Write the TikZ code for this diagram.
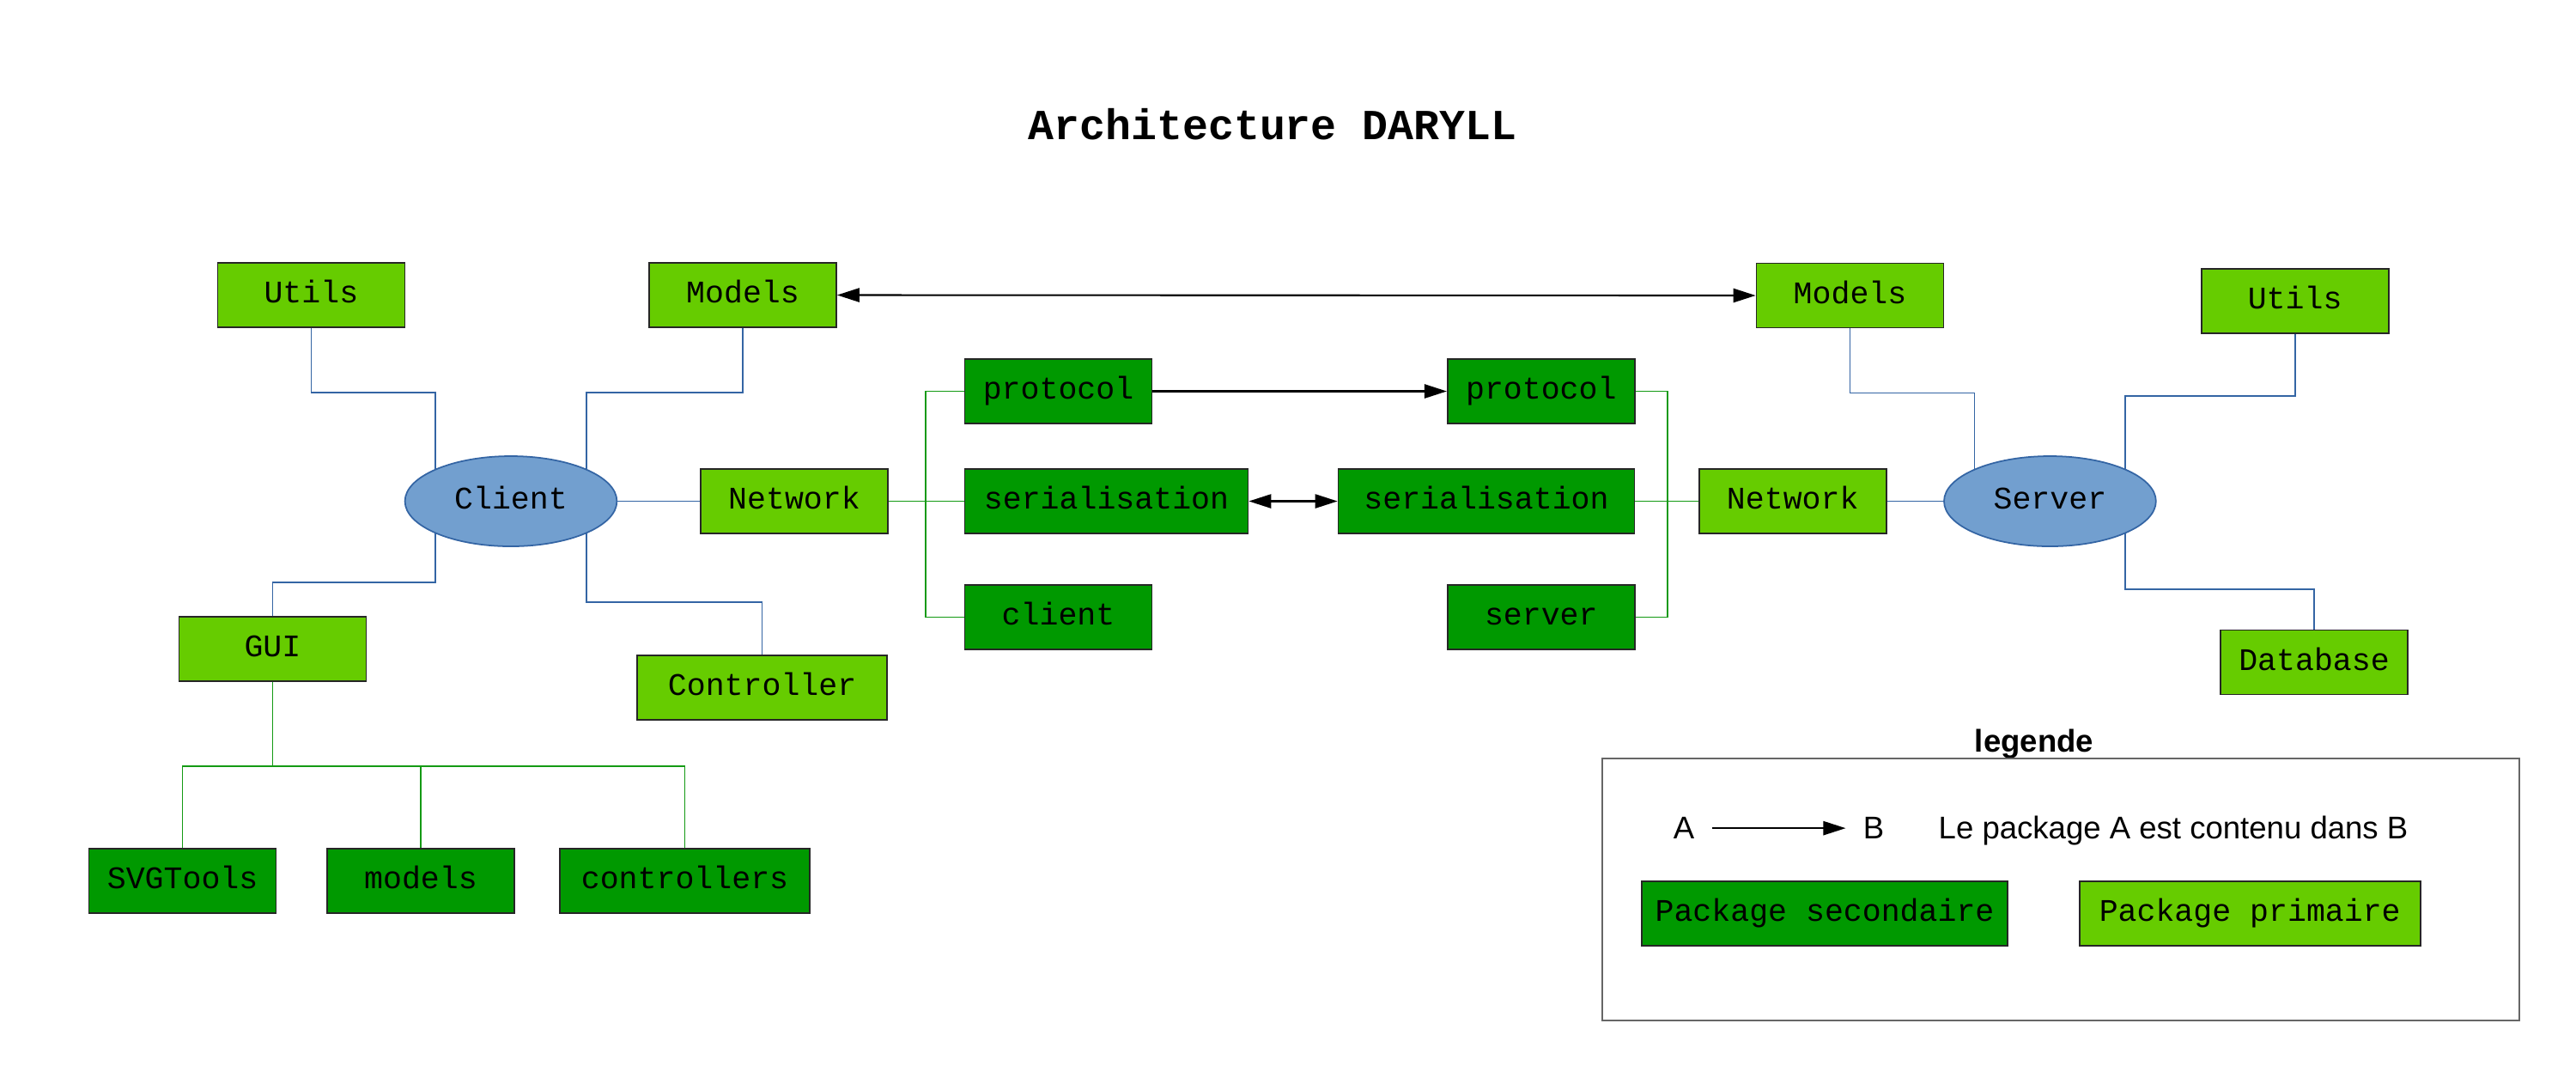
\documentclass[tikz,border=0pt]{standalone}
\usepackage{fontspec}
\setmainfont{Liberation Sans}
\newfontfamily\monof{Liberation Mono}
\usetikzlibrary{arrows.meta,calc,shapes.geometric}
\definecolor{lgreen}{HTML}{66CC00}
\definecolor{dgreen}{HTML}{009900}
\definecolor{ellfill}{HTML}{729FCF}
\definecolor{ellline}{HTML}{3465A4}
\definecolor{gline}{HTML}{149A14}
\newcommand{\boxfont}{\monof\fontsize{10.4}{12}\selectfont}
\begin{document}
\begin{tikzpicture}[x=1cm,y=1cm,
 pkg/.style={draw=black!85, line width=0.5pt, minimum width=2.18cm, minimum height=0.75cm, inner sep=0pt, text height=7.6pt, text depth=2.4pt, font=\boxfont},
 prim/.style={pkg, fill=lgreen},
 sec/.style={pkg, fill=dgreen},
 mainpkg/.style={ellipse, draw=ellline, fill=ellfill, line width=0.5pt, minimum width=2.468cm, minimum height=1.05cm, inner sep=0pt, text height=7.6pt, text depth=2.4pt, font=\boxfont},
 bl/.style={draw=ellline, line width=0.5pt},
 gl/.style={draw=gline, line width=0.5pt},
 arr/.style={line width=0.6pt, -{Triangle[length=7.4pt,width=4.6pt]}},
 darr/.style={line width=0.6pt, {Triangle[length=7.4pt,width=4.6pt]}-{Triangle[length=7.4pt,width=4.6pt]}},
 legtext/.style={font=\fontsize{10.4}{12}\selectfont, inner sep=5.6pt}
]
\useasboundingbox (0,0) rectangle (30,-12.4);

\node[font=\monof\bfseries\fontsize{14.2}{17}\selectfont] (title) at (14.82,-1.45) {Architecture DARYLL};

% client side
\node[prim] (utilsL) at (3.624,-3.435) {Utils};
\node[prim] (modelsL) at (8.65,-3.435) {Models};
\node[mainpkg] (client) at (5.95,-5.835) {Client};
\node[prim] (netL) at (9.25,-5.835) {Network};
\node[prim] (gui) at (3.174,-7.555) {GUI};
\node[prim, minimum width=2.91cm] (ctrl) at (8.876,-8.005) {Controller};
\node[sec] (svg) at (2.126,-10.258) {SVGTools};
\node[sec] (mods) at (4.90,-10.258) {models};
\node[sec, minimum width=2.916cm] (ctrls) at (7.975,-10.258) {controllers};

% network packages
\node[sec] (protoL) at (12.325,-4.555) {protocol};
\node[sec, minimum width=3.30cm] (serL) at (12.885,-5.835) {serialisation};
\node[sec] (cliL) at (12.325,-7.185) {client};
\node[sec] (protoR) at (17.948,-4.555) {protocol};
\node[sec, minimum width=3.45cm] (serR) at (17.31,-5.835) {serialisation};
\node[sec] (srvR) at (17.948,-7.185) {server};

% server side
\node[prim] (netR) at (20.877,-5.835) {Network};
\node[mainpkg] (server) at (23.874,-5.835) {Server};
\node[prim] (modelsR) at (21.545,-3.44) {Models};
\node[prim] (utilsR) at (26.726,-3.505) {Utils};
\node[prim] (db) at (26.95,-7.71) {Database};

% connectors client side
\draw[bl] (utilsL.south) -- ++(0,-0.75) -| (client.north west);
\draw[bl] (modelsL.south) -- ++(0,-0.75) -| (client.north east);
\draw[bl] (client.south west) -- ++(0,-0.567) -| (gui.north);
\draw[bl] (client.south east) -- ++(0,-0.797) -| (ctrl.north);
\draw[bl] (client.east) -- (netL.west);
\coordinate (bus) at ($(gui.south)+(0,-0.983)$);
\draw[gl] (gui.south) -- (bus);
\draw[gl] (bus) -| (svg.north);
\draw[gl] (bus) -| (mods.north);
\draw[gl] (bus) -| (ctrls.north);

% network connectors
\draw[gl] (netL.east) -- (serL.west);
\draw[gl] (protoL.west) -- ++(-0.445,0) |- (cliL.west);
\draw[gl] (protoR.east) -- ++(0.375,0) |- (srvR.east);
\draw[gl] (serR.east) -- (netR.west);

% server connectors
\draw[bl] (netR.east) -- (server.west);
\draw[bl] (modelsR.south) -- ++(0,-0.75) -| (server.north west);
\draw[bl] (utilsR.south) -- ++(0,-0.724) -| (server.north east);
\draw[bl] (server.south east) -- ++(0,-0.648) -| (db.north);

% arrows
\draw[darr] (modelsL.east) -- (modelsR.west);
\draw[arr] (protoL.east) -- (protoR.west);
\draw[darr] (serL.east) -- (serR.west);

% legend
\node[font=\bfseries\fontsize{10.4}{12}\selectfont, anchor=base] (legt) at (23.69,-8.75) {legende};
\node[draw=black!60, line width=0.6pt, minimum width=10.678cm, minimum height=3.05cm, inner sep=0pt] (legbox) at (23.999,-10.358) {};
\node[legtext, anchor=base] (la) at (19.61,-9.767) {A};
\node[legtext, anchor=base] (lb) at (21.82,-9.767) {B};
\draw[arr] (la) -- (lb);
\node[legtext, anchor=base west, inner sep=0pt] (lsent) at (22.57,-9.767) {Le package A est contenu dans B};
\node[sec, minimum width=4.266cm] (psec) at (21.25,-10.638) {Package secondaire};
\node[prim, minimum width=3.97cm] (pprim) at (26.202,-10.638) {Package primaire};
\end{tikzpicture}
\end{document}
